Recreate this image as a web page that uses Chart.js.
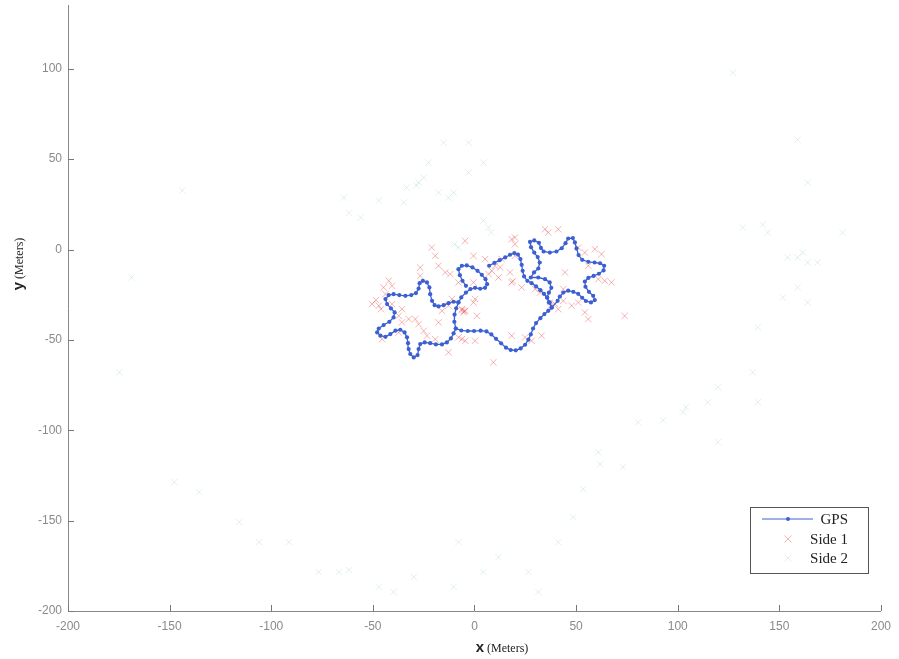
<!DOCTYPE html>
<html>
<head>
<meta charset="utf-8">
<script src="https://cdn.jsdelivr.net/npm/chart.js@4"></script>
<style>html,body{margin:0;padding:0;background:#fff;}canvas{display:block;}</style>
</head>
<body>
<canvas id="c" width="899" height="659"></canvas>
<script>
// ---------- data ----------
const xTicks = [-200, -150, -100, -50, 0, 50, 100, 150, 200];
const yTicks = [-200, -150, -100, -50, 0, 50, 100];

// GPS track (null = break between segments)
const gpsX = [7.2,9.8,12.4,15.1,17.5,19.6,21.4,22.6,23.2,23.7,24.4,26.0,28.1,30.3,32.4,34.2,35.8,37.0,38.0,
  40.9,42.0,43.7,46.1,48.6,51.0,53.0,54.8,57.3,59.2,58.4,56.3,54.6,54.3,56.0,58.6,61.2,63.5,63.8,61.8,59.1,56.0,53.0,51.2,50.2,49.4,48.4,46.1,44.8,42.9,40.3,37.1,34.0,32.7,31.7,29.4,27.3,27.8,29.4,31.1,32.1,31.4,29.3,27.7,
  31.4,34.7,37.0,37.8,36.6,35.7,36.6,38.0,
  36.3,34.4,32.4,30.3,28.8,27.7,26.5,24.9,22.7,20.3,17.8,15.5,13.1,10.6,8.3,5.9,3.0,-0.2,-3.3,-6.5,-9.2,
  -10.3,-11.6,-13.6,-16.0,-19.0,-21.8,-24.5,-26.7,-27.5,-28.0,-29.9,-31.6,-32.4,-32.7,-33.2,-34.4,-36.5,-38.9,-41.4,-43.8,-46.3,-47.9,-47.1,-44.7,-41.9,-39.8,-39.3,-41.1,-43.0,-43.8,-42.2,-39.8,-37.0,-34.0,-31.1,-28.8,-27.5,-27.0,-25.4,-23.4,-22.2,-21.8,-20.9,-19.6,-17.7,-15.2,-12.8,-10.3,-7.9,
  -6.5,-4.2,-2.0,0.3,2.8,5.2,6.2,5.4,3.6,1.5,-1.0,-3.8,-6.2,-7.9,-7.2,-5.9,-4.2,
  null,
  -7.9,-9.0,-9.8,-9.9,-9.2];
const gpsY = [-9.0,-7.4,-5.9,-4.4,-2.9,-2.0,-2.8,-5.3,-8.5,-11.8,-14.9,-17.3,-18.6,-20.4,-22.5,-24.5,-26.7,-29.3,-32.1,
  -28.4,-26.0,-23.8,-22.8,-23.4,-24.5,-26.7,-28.5,-29.3,-28.0,-25.6,-23.4,-20.6,-17.7,-15.7,-14.6,-13.4,-11.6,-9.0,-7.6,-7.2,-6.8,-5.7,-3.1,0.6,3.9,6.3,6.1,3.5,0.7,-1.1,-1.7,-1.1,0.9,3.7,5.0,4.2,1.3,-1.7,-4.2,-7.2,-10.5,-12.7,-15.5,
  -15.5,-16.4,-18.2,-21.2,-23.9,-26.5,-29.3,-32.1,
  -33.9,-35.7,-38.0,-40.7,-43.7,-47.0,-49.9,-52.7,-54.7,-55.8,-55.6,-54.3,-51.9,-49.4,-47.0,-45.3,-44.9,-45.1,-45.1,-44.8,-43.7,
  -46.4,-49.2,-51.4,-52.5,-52.5,-51.8,-51.4,-52.3,-55.1,-58.4,-59.7,-57.8,-55.1,-51.8,-48.6,-45.9,-44.4,-44.9,-46.8,-48.3,-47.7,-45.9,-43.7,-41.8,-40.0,-37.6,-34.8,-32.6,-30.2,-27.4,-25.2,-24.7,-25.2,-25.6,-25.2,-24.1,-21.6,-18.6,-17.3,-18.2,-21.0,-24.7,-28.4,-30.8,-31.5,-30.8,-29.7,-28.9,-29.3,
  -26.5,-23.8,-21.9,-21.2,-21.7,-21.2,-19.2,-16.4,-14.0,-11.8,-9.9,-8.8,-9.0,-10.9,-14.2,-17.3,-20.1,
  null,
  -29.3,-32.5,-36.0,-40.0,-43.7];

// Side 1 detections
const side1X = [-42.2,-40.6,-44.7,-43.8,-47.1,-50.4,-40.6,-35.7,-37.3,-32.4,-35.7,-29.1,-26.7,-26.7,-21.0,-19.3,-17.7,-14.4,-11.9,-7.9,-6.2,-4.6,-5.4,-5.0,-6.0,0.3,-0.5,1.2,-6.2,-7.9,-4.6,0.3,18.3,19.9,19.9,13.4,10.1,12.6,6.9,11.8,17.5,18.3,18.8,23.2,29.8,32.2,37.1,37.5,39.6,41.2,43.7,47.8,51.0,54.3,56.0,51.0,54.3,59.2,62.5,56.0,60.9,64.1,67.4,44.5,43.7,73.9,24.9,28.1,33.0,18.3,-19.3,-17.7,-23.4,-37.3,-45.5,-12.8,9.3,34.7,41.2,36.3,19.9,-0.5,-4.6,-12.8,-16.0,-11.1,-25.0,-27.5,-0.5,5.2,8.5,-48.5,-46.0];
const side1Y = [-17.3,-20.1,-21.0,-24.7,-31.1,-30.2,-30.2,-33.0,-36.7,-38.5,-40.3,-38.5,-10.0,-14.6,1.1,-3.5,-9.0,-12.7,-13.6,-18.2,-33.0,-33.9,-34.8,-34.0,-33.5,-27.4,-29.3,-36.7,-49.6,-48.6,-50.5,-50.5,5.7,2.9,-3.5,-5.3,-9.0,-9.9,-13.6,-15.5,-12.7,-18.2,-17.5,-21.0,-21.9,-23.8,-29.3,-31.0,-30.2,-33.0,-28.4,-31.1,-29.3,-34.8,-38.5,1.1,-1.7,0.2,-2.6,-9.0,-16.4,-17.3,-18.2,-12.7,-21.9,-36.7,-48.6,-50.5,-47.7,-47.7,-49.6,-40.3,-47.7,-45.9,-49.6,-56.9,-62.4,11.2,11.2,9.4,6.6,-3.5,4.8,-31.1,-33.9,-27.4,-45.0,-41.3,-18.2,-5.3,-11.8,-28.0,-33.0];

// Side 2 detections
const side2X = [-168.8,-143.8,-28.5,-27.5,-12.8,-9.8,-7.9,4.4,6.9,8.3,-17.7,-10.3,-2.9,4.4,-64.3,-61.8,-56.0,-47.1,-34.8,-33.4,-25.0,-22.6,-15.2,-2.9,132.0,141.8,144.3,154.1,159.0,161.5,163.9,168.8,159.0,163.9,151.7,139.4,136.9,119.8,114.8,104.0,102.6,92.8,80.5,73.1,60.9,61.8,53.5,48.6,41.2,31.4,26.5,11.8,4.4,-7.9,-10.3,-29.9,-39.8,-47.1,-61.8,-66.7,-76.6,-91.3,-106.0,-115.8,-135.5,-147.7,-174.7,127.1,159.0,163.9,181.1,139.4,119.8];
const side2Y = [-15.5,32.6,35.4,37.0,28.7,2.8,1.1,16.0,12.2,9.4,31.5,31.5,42.5,48.1,28.7,20.4,17.7,27.1,26.0,34.3,39.8,48.1,59.1,59.1,12.2,13.8,9.4,-4.4,-4.4,-1.7,-7.2,-7.2,-21.0,-29.3,-26.5,-43.1,-68.0,-76.2,-84.5,-87.3,-90.1,-94.5,-95.6,-120.4,-112.2,-118.8,-132.6,-148.1,-161.9,-189.5,-178.5,-170.2,-178.5,-161.9,-186.7,-181.2,-189.5,-186.7,-177.3,-178.5,-178.5,-161.9,-161.9,-150.8,-134.3,-128.7,-68.0,97.8,60.8,37.0,9.4,-84.5,-106.6];

const seriesNames = ['GPS', 'Side 1', 'Side 2'];

// ---------- build ----------
const toPts = (xs, ys) => xs.map((v, i) => ({x: v, y: ys[i]}));
const GPS_COLOR = '#3c5fd2';
const S1_COLOR = 'rgba(236,72,72,0.42)';
const S2_COLOR = 'rgba(70,175,120,0.17)';

const decor = {
  id: 'decor',
  afterDraw(chart) {
    const {ctx, chartArea: ca, scales: {x, y}} = chart;
    ctx.save();
    ctx.strokeStyle = '#777';
    ctx.lineWidth = 1;
    x.ticks.forEach(t => {
      const px = Math.round(x.getPixelForValue(t.value)) + 0.5;
      ctx.beginPath(); ctx.moveTo(px, ca.bottom); ctx.lineTo(px, ca.bottom - 6); ctx.stroke();
    });
    y.ticks.forEach(t => {
      const py = Math.round(y.getPixelForValue(t.value)) + 0.5;
      ctx.beginPath(); ctx.moveTo(ca.left, py); ctx.lineTo(ca.left + 6, py); ctx.stroke();
    });
    const drawTitle = (cx, cy, rot, main) => {
      ctx.save();
      ctx.translate(cx, cy);
      ctx.rotate(rot);
      ctx.fillStyle = '#222';
      ctx.textBaseline = 'alphabetic';
      const f1 = 'bold 15px "Liberation Sans", Arial, sans-serif';
      const f2 = '12px "Liberation Serif", "Times New Roman", serif';
      ctx.font = f1; const w1 = ctx.measureText(main).width;
      ctx.font = f2; const w2 = ctx.measureText(' (Meters)').width;
      const x0 = -(w1 + w2) / 2;
      ctx.font = f1; ctx.textAlign = 'left'; ctx.fillText(main, x0, 4);
      ctx.font = f2; ctx.fillText(' (Meters)', x0 + w1, 4);
      ctx.restore();
    };
    drawTitle(502, 648, 0, 'x');
    drawTitle(19, 264, -Math.PI / 2, 'y');
    // legend
    const bx = 750.5, by = 507.5, bw = 118, bh = 66;
    ctx.fillStyle = '#fff';
    ctx.fillRect(bx, by, bw, bh);
    ctx.strokeStyle = '#555';
    ctx.lineWidth = 1;
    ctx.strokeRect(bx, by, bw, bh);
    ctx.font = '15px "Liberation Serif", "Times New Roman", serif';
    ctx.textAlign = 'right';
    ctx.textBaseline = 'middle';
    const rows = [519, 539, 558];
    ctx.strokeStyle = GPS_COLOR; ctx.lineWidth = 1;
    ctx.beginPath(); ctx.moveTo(762, rows[0]); ctx.lineTo(813, rows[0]); ctx.stroke();
    ctx.fillStyle = GPS_COLOR; ctx.beginPath(); ctx.arc(788, rows[0], 2, 0, Math.PI * 2); ctx.fill();
    const cross = (cx, cy, col) => {
      ctx.strokeStyle = col; ctx.lineWidth = 1;
      ctx.beginPath();
      ctx.moveTo(cx - 3.5, cy - 3.5); ctx.lineTo(cx + 3.5, cy + 3.5);
      ctx.moveTo(cx + 3.5, cy - 3.5); ctx.lineTo(cx - 3.5, cy + 3.5);
      ctx.stroke();
    };
    cross(788, rows[1], S1_COLOR);
    cross(788, rows[2], S2_COLOR);
    ctx.fillStyle = '#222';
    seriesNames.forEach((n, i) => ctx.fillText(n, 848, rows[i] + 1));
    ctx.restore();
  }
};

new Chart(document.getElementById('c'), {
  type: 'scatter',
  data: {
    datasets: [
      {label: seriesNames[0], data: toPts(gpsX, gpsY), showLine: true, spanGaps: false,
       borderColor: GPS_COLOR, backgroundColor: GPS_COLOR, borderWidth: 1.3,
       pointRadius: 2.1, pointBorderWidth: 0, pointBackgroundColor: GPS_COLOR},
      {label: seriesNames[1], data: toPts(side1X, side1Y), pointStyle: 'crossRot',
       pointRadius: 4.5, borderColor: S1_COLOR, borderWidth: 1},
      {label: seriesNames[2], data: toPts(side2X, side2Y), pointStyle: 'crossRot',
       pointRadius: 4.5, borderColor: S2_COLOR, borderWidth: 1}
    ]
  },
  options: {
    responsive: false,
    animation: false,
    devicePixelRatio: 1,
    layout: {padding: {top: 3, right: 16, left: 0, bottom: 0}},
    plugins: {legend: {display: false}, tooltip: {enabled: false}},
    scales: {
      x: {
        type: 'linear', min: -200, max: 200,
        afterBuildTicks: s => { s.ticks = xTicks.map(v => ({value: v})); },
        ticks: {color: '#8a8a8a', font: {family: '"Liberation Sans", Arial, sans-serif', size: 12}, padding: 8, maxRotation: 0},
        grid: {display: true, drawOnChartArea: false, drawTicks: false},
        border: {display: true, color: '#888', width: 1},
        afterFit: s => { s.height = 48; }
      },
      y: {
        type: 'linear', min: -200, max: 135,
        afterBuildTicks: s => { s.ticks = yTicks.map(v => ({value: v})); },
        ticks: {color: '#8a8a8a', font: {family: '"Liberation Sans", Arial, sans-serif', size: 12}, padding: 6},
        grid: {display: true, drawOnChartArea: false, drawTicks: false},
        border: {display: true, color: '#888', width: 1},
        afterFit: s => { s.width = 68; s.paddingTop = 0; s.paddingBottom = 0; }
      }
    }
  },
  plugins: [decor]
});
</script>
</body>
</html>
